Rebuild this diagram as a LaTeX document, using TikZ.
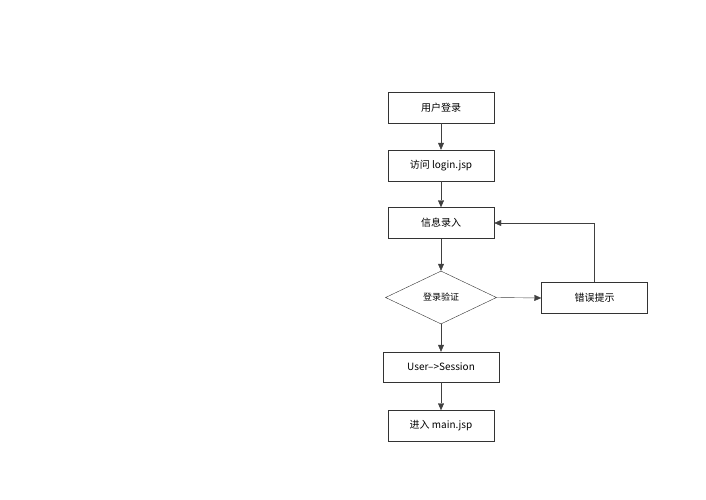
\documentclass[tikz,border=0pt]{standalone}
\usepackage{fontspec}
\setmainfont{Noto Sans CJK SC}
\usetikzlibrary{shapes.geometric,arrows.meta}
\tikzset{
  stepbox/.style={draw=black!80,minimum width=106pt,minimum height=31pt,font=\fontsize{10}{12}\selectfont,inner sep=1pt},
  flow/.style={draw=black!75,-{Triangle[length=7pt,width=6pt]}}
}
\begin{document}
\begin{tikzpicture}[x=1pt,y=-1pt]
	\useasboundingbox (0,0) rectangle (706,500);
	\node[stepbox] (login) at (441,107.5) {用户登录};
	\node[stepbox] (visit) at (441,165.5) {访问 login.jsp};
	\node[stepbox] (input) at (441,223) {信息录入};
	\node[diamond,draw=black!80,aspect=2.1,minimum width=111pt,minimum height=53pt,inner sep=0pt,font=\fontsize{9}{11}\selectfont] (check) at (441,297.5) {登录验证};
	\node[stepbox] (error) at (594.5,298) {错误提示};
	\node[stepbox,minimum width=116pt,minimum height=30pt] (session) at (441,367) {User-->Session};
	\node[stepbox] (main) at (441,426) {进入 main.jsp};

	\draw[flow] (login) -- (visit);
	\draw[flow] (visit) -- (input);
	\draw[flow] (input) -- (check);
	\draw[flow] (check) -- (session);
	\draw[flow] (session) -- (main);
	\draw[flow] (check.east) -- (error.west);
	\draw[flow] (error.north) |- (input.east);
\end{tikzpicture}
\end{document}
